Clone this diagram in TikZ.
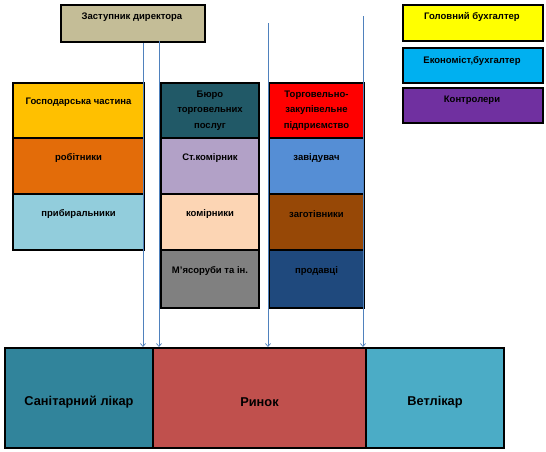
\documentclass[tikz,border=0pt]{standalone}
\usepackage{fontspec}
\setmainfont{Liberation Sans}
\usetikzlibrary{arrows.meta,shadows}
\definecolor{cZast}{HTML}{C4BD97}
\definecolor{cGos}{HTML}{FFC000}
\definecolor{cRob}{HTML}{E36C09}
\definecolor{cPryb}{HTML}{92CDDC}
\definecolor{cBuro}{HTML}{215967}
\definecolor{cStk}{HTML}{B2A1C7}
\definecolor{cKom}{HTML}{FCD5B4}
\definecolor{cMya}{HTML}{808080}
\definecolor{cTorg}{HTML}{FF0000}
\definecolor{cZav}{HTML}{558ED5}
\definecolor{cZag}{HTML}{974806}
\definecolor{cProd}{HTML}{1F497D}
\definecolor{cGol}{HTML}{FFFF00}
\definecolor{cEkon}{HTML}{00B0F0}
\definecolor{cKontr}{HTML}{7030A0}
\definecolor{cSan}{HTML}{31849B}
\definecolor{cRyn}{HTML}{C0504D}
\definecolor{cVet}{HTML}{4BACC6}
\definecolor{cArr}{HTML}{4F81BD}
\begin{document}
\begin{tikzpicture}[x=1pt,y=-1pt,
  box/.style={draw=black,line width=2pt,inner sep=0pt,anchor=north west,
    drop shadow={shadow xshift=1.2pt,shadow yshift=-1.2pt,fill=gray,opacity=0.6}},
  lbl/.style={font=\bfseries\fontsize{9.5}{15.5}\selectfont,align=center,inner sep=0pt,text=black},
  big/.style={font=\bfseries\fontsize{12.8}{14}\selectfont,align=center,inner sep=0pt,text=black},
  arr/.style={draw=cArr,line width=0.7pt,-{Straight Barb[length=3pt,width=5pt]}}]
\useasboundingbox (0,0) rectangle (546,451);
% top
\node[box,fill=cZast,minimum width=144pt,minimum height=37pt] (zast) at (60,4) {};
\node[lbl] (tzast) at (132,17) {Заступник директора};
% column 1
\node[box,fill=cGos,minimum width=131pt,minimum height=55pt] (gos) at (12,82) {};
\node[box,fill=cRob,minimum width=131pt,minimum height=56pt] (rob) at (12,137) {};
\node[box,fill=cPryb,minimum width=131pt,minimum height=56pt] (pryb) at (12,193) {};
\node[lbl] (tgos) at ([yshift=-20pt]gos.north) {Господарська частина};
\node[lbl] (trob) at ([yshift=-21pt]rob.north) {робітники};
\node[lbl] (tpryb) at ([yshift=-21pt]pryb.north) {прибиральники};
% column 2
\node[box,fill=cBuro,minimum width=98pt,minimum height=55pt] (buro) at (160,82) {};
\node[box,fill=cStk,minimum width=98pt,minimum height=56pt] (stk) at (160,137) {};
\node[box,fill=cKom,minimum width=98pt,minimum height=56pt] (kom) at (160,193) {};
\node[box,fill=cMya,minimum width=98pt,minimum height=58pt] (mya) at (160,249) {};
\node[lbl] (tburo) at (buro.center) {Бюро\\торговельних\\послуг};
\node[lbl] (tstk) at ([yshift=-21pt]stk.north) {Ст.комірник};
\node[lbl] (tkom) at ([yshift=-21pt]kom.north) {комірники};
\node[lbl] (tmya) at ([yshift=-22pt]mya.north) {М'ясоруби та ін.};
% column 3
\node[box,fill=cTorg,minimum width=95pt,minimum height=55pt] (torg) at (268,82) {};
\node[box,fill=cZav,minimum width=95pt,minimum height=56pt] (zav) at (268,137) {};
\node[box,fill=cZag,minimum width=95pt,minimum height=56pt] (zag) at (268,193) {};
\node[box,fill=cProd,minimum width=95pt,minimum height=58pt] (prod) at (268,249) {};
\node[lbl] (ttorg) at (torg.center) {Торговельно-\\закупівельне\\підприємство};
\node[lbl] (tzav) at ([yshift=-21pt]zav.north) {завідувач};
\node[lbl] (tzag) at ([yshift=-21pt]zag.north) {заготівники};
\node[lbl] (tprod) at ([yshift=-22pt]prod.north) {продавці};
% right
\node[box,fill=cGol,minimum width=140pt,minimum height=36pt] (gol) at (402,4) {};
\node[box,fill=cEkon,minimum width=140pt,minimum height=35pt] (ekon) at (402,47) {};
\node[box,fill=cKontr,minimum width=140pt,minimum height=35pt] (kontr) at (402,87) {};
\node[lbl] (tgol) at (472,17) {Головний бухгалтер};
\node[lbl] (tekon) at (472,61) {Економіст,бухгалтер};
\node[lbl] (tkontr) at (472,100) {Контролери};
% bottom
\node[box,fill=cSan,minimum width=148pt,minimum height=100pt] (san) at (4,347) {};
\node[box,fill=cRyn,minimum width=213pt,minimum height=100pt] (ryn) at (152,347) {};
\node[box,fill=cVet,minimum width=138pt,minimum height=100pt] (vet) at (365,347) {};
\node[big] (tsan) at ([yshift=-4pt]san.center) {Санітарний лікар};
\node[big] (tryn) at ([yshift=-4pt]ryn.center) {Ринок};
\node[big] (tvet) at ([yshift=-4pt]vet.center) {Ветлікар};
% connectors
\coordinate (s1) at (143,43);
\coordinate (s2) at (159,41);
\coordinate (s3) at (268,23);
\coordinate (s4) at (363,16);
\draw[arr] (s1) -- (s1 |- san.north);
\draw[arr] (s2) -- (s2 |- ryn.north);
\draw[arr] (s3) -- (s3 |- ryn.north);
\draw[arr] (s4) -- (s4 |- ryn.north);
\end{tikzpicture}
\end{document}
